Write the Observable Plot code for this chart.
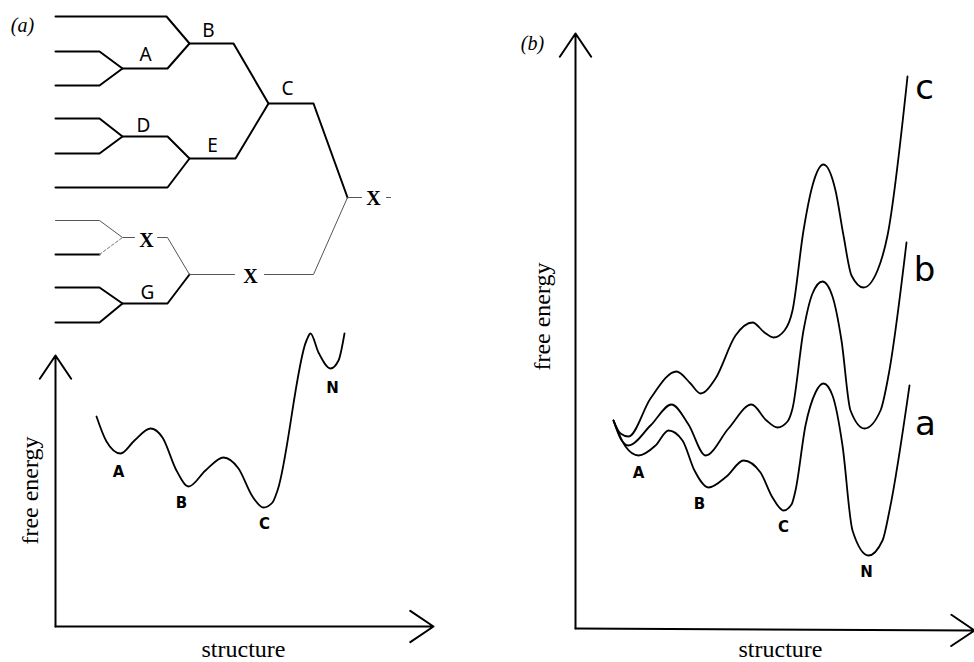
<!DOCTYPE html>
<html><head><meta charset="utf-8">
<script src="https://cdn.jsdelivr.net/npm/d3@7"></script>
<script src="https://cdn.jsdelivr.net/npm/@observablehq/plot@0.6"></script>
<style>body{margin:0;background:#fff}</style>
</head><body><div id="chart"></div>
<script>
// ---- Panel (a): folding-pathway tree (diagram units) ----
const treeThick = [
  [[55,16],[166,16],[189,43],[233,43],[268,103],[313,103],[347,197]],
  [[55,51],[99,51],[122,68],[167,68],[189,43]],
  [[55,85],[99,85],[122,68]],
  [[55,118],[99,118],[122,136],[167,136],[189,158],[235,158],[268,103]],
  [[55,153],[99,153],[122,136]],
  [[55,187],[167,187],[189,158]],
  [[55,254],[99,254]],
  [[55,287],[99,287],[122,303],[167,303],[189,274]],
  [[55,322],[99,322],[122,303]]
];
const treeThin = [
  [[55,220],[99,220],[122,237],[134,237]],
  [[157,237],[167,237],[189,274],[234,274]],
  [[264,274],[313,274],[347,197],[361,197]],
  [[386,197],[390,197]]
];
const treeDashed = [[[99,254],[122,237]]];
const treeNodeLabels = ["B","A","C","D","E","G"];
const treeNodeX = [208,145,287,143,212,147];
const treeNodeY = [30,54,88,125,145,292];
const treeXLabels = ["X","X","X"];
const treeXx = [373,146,250];
const treeXy = [198,240,276];

// ---- Panel (a): energy landscape ----
const landscapeA = [[96,416],[106,441],[120,453],[134,440],[150,428],[162,437],[176,470],[188,486],[205,470],[223,457],[238,468],[252,496],[263,507],[272,502],[277,490],[306,340],[310,333],[318,352],[330,368],[338,360],[344,333]];
const minimaA = ["A","B","C","N"];
const minimaAx = [118,181,264,332];
const minimaAy = [472,503,524,388];

// ---- Panel (b): three landscapes ----
const curveLow = [[613,420],[625,446],[638,455],[655,445],[668,430],[682,440],[694,470],[708,487],[726,476],[743,460],[760,472],[772,497],[783,510],[791,504],[795,490],[805,425],[815,392],[823,383],[832,395],[842,445],[852,530],[868,555],[882,540],[889,510],[909,385]];
const curveMid = [[613,420],[620,438],[628,445],[650,425],[671,404],[688,424],[705,455],[728,428],[751,404],[766,420],[777,427],[787,421],[792,408],[803,330],[812,293],[822,281],[832,296],[841,340],[850,410],[864,428],[880,410],[888,375],[906,242]];
const curveHigh = [[613,420],[620,433],[628,436],[650,398],[676,371],[690,383],[700,393],[715,378],[735,335],[752,322],[764,332],[773,337],[784,330],[792,310],[803,230],[812,185],[823,164],[835,190],[843,235],[851,275],[863,287],[877,270],[887,235],[907,76]];
const curveNames = ["a","b","c"];
const curveNameX = [925,924,924];
const curveNameY = [424,270,88];
const minimaB = ["A","B","C","N"];
const minimaBx = [638,699,783,866];
const minimaBy = [473,504,527,572];

// axes (arrows)
const axes = [
  {x1:55,y1:626,x2:55,y2:355},
  {x1:55,y1:626,x2:433,y2:626},
  {x1:575,y1:628,x2:575,y2:33},
  {x1:575,y1:628,x2:974,y2:630}
];
const axisTitles = ["free energy","structure","free energy","structure"];
const axisTitleX = [30,243,542,780];
const axisTitleY = [490,649,316,649];
const axisTitleRot = [-90,0,-90,0];
const panelLabels = ["(a)","(b)"];
const panelX = [22,532];
const panelY = [25,43];

const flat = (paths) => paths.flatMap((p,i) => p.map(([x,y]) => ({x,y,id:i})));
const pts = (p) => p.map(([x,y]) => ({x,y}));
const lab = (t,xs,ys,extra={}) => t.map((s,i)=>({s,x:xs[i],y:ys[i],...Object.fromEntries(Object.entries(extra).map(([k,v])=>[k,v[i]]))}));

const serif = "Liberation Serif";
const sans = "DejaVu Sans";

const titles = lab(axisTitles, axisTitleX, axisTitleY, {r:axisTitleRot});

const chart = Plot.plot({
  width: 974, height: 662, margin: 0,
  x: {domain: [0, 974], axis: null},
  y: {domain: [662, 0], axis: null},
  marks: [
    Plot.line(flat(treeThick), {x:"x", y:"y", z:"id", stroke:"#000", strokeWidth:2}),
    Plot.line(flat(treeThin), {x:"x", y:"y", z:"id", stroke:"#555", strokeWidth:1}),
    Plot.line(flat(treeDashed), {x:"x", y:"y", z:"id", stroke:"#777", strokeWidth:1, strokeDasharray:"3,2"}),
    Plot.text(lab(treeNodeLabels, treeNodeX, treeNodeY), {x:"x", y:"y", text:"s", fontSize:19, fontFamily:"Noto Sans", fill:"#000"}),
    Plot.text(lab(treeXLabels, treeXx, treeXy), {x:"x", y:"y", text:"s", fontSize:20, fontWeight:"bold", fontFamily:serif, fill:"#000"}),
    Plot.arrow(axes, {x1:"x1", y1:"y1", x2:"x2", y2:"y2", stroke:"#000", strokeWidth:2, headLength:21, headAngle:68, bend:0}),
    Plot.line(pts(landscapeA), {x:"x", y:"y", curve:"monotone-x", stroke:"#000", strokeWidth:1.8}),
    Plot.text(lab(minimaA, minimaAx, minimaAy), {x:"x", y:"y", text:"s", fontSize:15, fontWeight:"bold", fontFamily:sans, fill:"#000"}),
    Plot.line(pts(curveLow), {x:"x", y:"y", curve:"monotone-x", stroke:"#000", strokeWidth:1.8}),
    Plot.line(pts(curveMid), {x:"x", y:"y", curve:"monotone-x", stroke:"#000", strokeWidth:1.8}),
    Plot.line(pts(curveHigh), {x:"x", y:"y", curve:"monotone-x", stroke:"#000", strokeWidth:1.8}),
    Plot.text(lab(minimaB, minimaBx, minimaBy), {x:"x", y:"y", text:"s", fontSize:15, fontWeight:"bold", fontFamily:sans, fill:"#000"}),
    Plot.text(lab(curveNames, curveNameX, curveNameY), {x:"x", y:"y", text:"s", fontSize:34, fontFamily:sans, fill:"#000"}),
    Plot.text(titles.filter(d=>d.r===0), {x:"x", y:"y", text:"s", fontSize:24, fontFamily:serif, fill:"#000"}),
    Plot.text(titles.filter(d=>d.r!==0), {x:"x", y:"y", text:"s", rotate:-90, fontSize:24, fontFamily:serif, fill:"#000"}),
    Plot.text(lab(panelLabels, panelX, panelY), {x:"x", y:"y", text:"s", fontSize:20, fontStyle:"italic", fontFamily:serif, fill:"#000"})
  ]
});
document.getElementById("chart").append(chart);
</script>
</body></html>
